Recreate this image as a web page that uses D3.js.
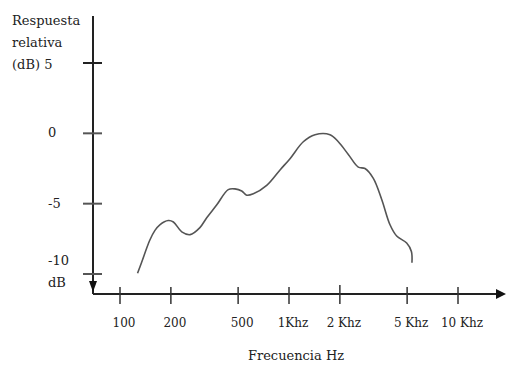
<!DOCTYPE html>
<html>
<head>
<meta charset="utf-8">
<script src="https://cdnjs.cloudflare.com/ajax/libs/d3/7.8.5/d3.min.js"></script>
<style>
  body { margin: 0; background: #fff; }
  text { font-family: "DejaVu Serif", "Liberation Serif", serif; fill: #222; }
</style>
</head>
<body>
<div id="chart"></div>
<script>
// respuesta relativa (dB) vs frecuencia (Hz)
var freqs = [127, 134, 150, 161, 172, 193, 207, 232, 260, 297, 326, 373, 437, 479, 525, 562, 615,
  738, 885, 1014, 1215, 1425, 1748, 1958, 2244, 2570, 2817, 3155, 3537, 3960, 4337, 4970, 5300, 5340];
var dbs = [-9.95, -9.2, -7.6, -6.9, -6.5, -6.2, -6.3, -7.0, -7.2, -6.7, -6.0, -5.1, -4.0, -3.95, -4.1, -4.4, -4.3,
  -3.7, -2.6, -1.8, -0.6, -0.1, -0.1, -0.6, -1.5, -2.4, -2.5, -3.2, -4.7, -6.5, -7.3, -7.8, -8.4, -9.2];
var xTicks = [100, 200, 500, 1000, 2000, 5000, 10000];
var xLabels = ["100", "200", "500", "1Khz", "2 Khz", "5 Khz", "10 Khz"];
var yTicks = [5, 0, -5, -10];

var width = 506, height = 369;
var x0 = 93, y0 = 294;

var x = d3.scaleLog().domain([100, 10000]).range([120, 458]);
var y = d3.scaleLinear().domain([-10, 5]).range([274, 63]);

var svg = d3.select("#chart").append("svg").attr("width", width).attr("height", height);

// ejes
svg.append("line").attr("x1", x0).attr("x2", x0).attr("y1", 16).attr("y2", y0)
  .attr("stroke", "#222").attr("stroke-width", 2);
svg.append("line").attr("x1", x0).attr("x2", 500).attr("y1", y0).attr("y2", y0)
  .attr("stroke", "#222").attr("stroke-width", 2);
// flechas
svg.append("path").attr("d", "M" + (x0 - 4) + "," + 281 + "L" + (x0 + 4) + "," + 281 + "L" + x0 + "," + 292 + "Z")
  .attr("fill", "#111");
svg.append("path").attr("d", "M496," + (y0 - 5) + "L506," + y0 + "L496," + (y0 + 5) + "Z").attr("fill", "#111");

// marcas y
svg.selectAll(".yt").data(yTicks).enter().append("line")
  .attr("x1", 83).attr("x2", 102)
  .attr("y1", function (d) { return y(d); }).attr("y2", function (d) { return y(d); })
  .attr("stroke", function (d) { return d === 5 ? "#222" : "#555"; }).attr("stroke-width", 2);

// marcas x
svg.selectAll(".xt").data(xTicks).enter().append("line")
  .attr("x1", function (d) { return x(d); }).attr("x2", function (d) { return x(d); })
  .attr("y1", function (d) { return d === 2000 ? 285 : 287; }).attr("y2", 304)
  .attr("stroke", "#333").attr("stroke-width", 1.5);

svg.selectAll(".xl").data(xTicks).enter().append("text")
  .attr("x", function (d) { return x(d) + 4; }).attr("y", 327)
  .attr("text-anchor", "middle").attr("font-size", 12)
  .text(function (d, i) { return xLabels[i]; });

// etiquetas y
var yl = svg.append("g").attr("font-size", 13);
yl.append("text").attr("x", 12).attr("y", 25).text("Respuesta");
yl.append("text").attr("x", 12).attr("y", 47).text("relativa");
yl.append("text").attr("x", 12).attr("y", 69).text("(dB) 5");
[0, -5, -10].forEach(function (d) {
  yl.append("text").attr("x", 48).attr("y", d === -10 ? 265 : y(d) + 4).text(String(d));
});
yl.append("text").attr("x", 48).attr("y", 287).text("dB");

svg.append("text").attr("x", 296).attr("y", 360).attr("text-anchor", "middle")
  .attr("font-size", 13).text("Frecuencia Hz");

// curva
var pts = freqs.map(function (f, i) { return [f, dbs[i]]; });
var line = d3.line().x(function (d) { return x(d[0]); }).y(function (d) { return y(d[1]); })
  .curve(d3.curveCatmullRom);
svg.append("path").datum(pts).attr("d", line).attr("fill", "none")
  .attr("stroke", "#555").attr("stroke-width", 1.6);
</script>
</body>
</html>
